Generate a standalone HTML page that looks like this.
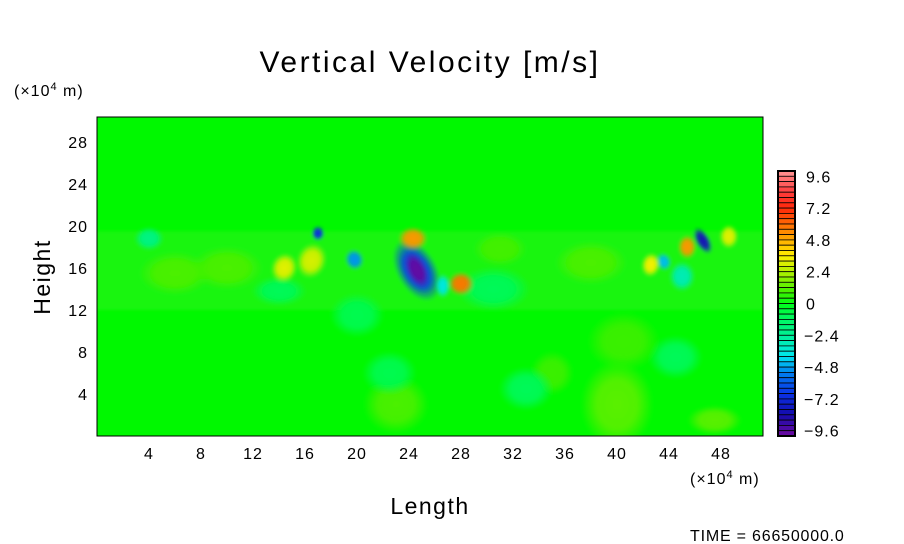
<!DOCTYPE html>
<html><head><meta charset="utf-8"><style>
html,body{margin:0;padding:0;background:#fff;}
svg{display:block;font-family:"Liberation Sans",sans-serif;}
</style></head><body>
<svg id="chart" width="904" height="544" viewBox="0 0 904 544" xmlns="http://www.w3.org/2000/svg">
<defs>
<filter id="blur" x="-50%" y="-50%" width="200%" height="200%"><feGaussianBlur stdDeviation="1.5"/></filter>
<clipPath id="plotclip"><rect x="97" y="117" width="666" height="319"/></clipPath>
</defs>
<text x="430" y="72" font-size="30" text-anchor="middle" letter-spacing="2.5">Vertical Velocity [m/s]</text>
<text x="14" y="96" font-size="16" letter-spacing="1">(×10<tspan font-size="11" dy="-6">4</tspan><tspan dy="6"> m)</tspan></text>
<g id="plot" clip-path="url(#plotclip)">
<rect x="97" y="117" width="666" height="319" fill="#00f800"/>
<g id="blobs" filter="url(#blur)"></g>
</g>
<rect x="97" y="117" width="666" height="319" fill="none" stroke="#000" stroke-width="1"/>
<g id="xticks"></g><g id="yticks"></g>
<text x="690" y="484" font-size="16" letter-spacing="1">(×10<tspan font-size="11" dy="-6">4</tspan><tspan dy="6"> m)</tspan></text>
<text x="430" y="514" font-size="23" text-anchor="middle" letter-spacing="1.5">Length</text>
<text x="50" y="277" font-size="23" text-anchor="middle" letter-spacing="1.5" transform="rotate(-90 50 277)">Height</text>
<text x="690" y="541" font-size="16" letter-spacing="0.8">TIME = 66650000.0</text>
<g id="colorbar"></g>
</svg>
<script>
const xTicks=[4,8,12,16,20,24,28,32,36,40,44,48];
const yTicks=[4,8,12,16,20,24,28];
const cbLabels=[9.6,7.2,4.8,2.4,0,-2.4,-4.8,-7.2,-9.6];
// blob data: centers (x,y in 1e4 m), value (m/s), radii (1e4 m), rotation (deg)
const blobX=[40.0,23.0,35.0,44.5,20.0,30.5,10.0,38.0,31.0,14.0,40.5,22.5,33.0,47.5,6.0,4.0,24.6,24.6,24.3,28.0,17.0,19.8,16.5,14.4,26.6,46.6,45.4,48.6,43.6,42.6,45.0];
const blobY=[3.0,3.0,6.0,7.5,11.5,14.0,16.0,16.5,17.8,13.8,9.0,6.0,4.5,1.5,15.5,18.8,15.8,15.8,18.8,14.5,19.3,16.8,16.7,16.0,14.3,18.6,18.0,19.0,16.6,16.3,15.2];
const blobV=[1.2,1.0,0.8,-1.0,-0.8,-1.0,1.0,1.0,0.9,-1.0,0.8,-0.8,-1.0,1.2,1.0,-2.0,-6.5,-9.8,5.2,5.8,-7.0,-5.0,3.0,3.2,-3.8,-8.0,5.2,3.2,-4.5,3.5,-3.0];
const blobRx=[2.0,1.8,1.2,1.5,1.5,2.0,2.0,2.0,1.5,1.5,2.0,1.5,1.5,1.5,2.0,0.8,1.1,0.55,0.8,0.7,0.35,0.5,0.8,0.7,0.4,0.4,0.5,0.5,0.4,0.5,0.7];
const blobRy=[3.0,2.0,1.5,1.5,1.5,1.5,1.5,1.5,1.2,1.0,2.0,1.5,1.5,1.0,1.5,0.8,2.3,1.3,0.8,0.8,0.5,0.7,1.2,1.0,0.8,1.0,0.8,0.8,0.6,0.8,1.0];
const blobRot=[0,0,0,0,0,0,0,0,0,0,0,0,0,0,0,0,-30,-25,0,0,0,-20,20,20,0,-30,0,0,-20,10,0];

const X0=97,X1=763,Y0=436,Y1=117,XMAX=51.23,YMAX=30.38;
const sx=v=>X0+v*(X1-X0)/XMAX, sy=v=>Y0-v*(Y0-Y1)/YMAX;
const NS="http://www.w3.org/2000/svg";
const stops=[[-10,[110,10,160]],[-8.4,[20,10,170]],[-6.8,[10,50,230]],[-5.2,[0,130,240]],[-4,[0,230,240]],[-2.4,[0,240,150]],[-0.8,[0,250,80]],[0,[0,255,20]],[0.8,[60,240,0]],[2,[150,240,0]],[3.6,[255,240,0]],[5.2,[255,150,0]],[7.2,[255,40,10]],[8.4,[255,60,60]],[10,[255,150,150]]];
function cmap(v){
  if(v<=stops[0][0])return stops[0][1];
  for(let i=1;i<stops.length;i++){if(v<=stops[i][0]){const a=stops[i-1],b=stops[i],t=(v-a[0])/(b[0]-a[0]);return a[1].map((c,k)=>Math.round(c+(b[1][k]-c)*t));}}
  return stops[stops.length-1][1];
}
const rgb=c=>`rgb(${c[0]},${c[1]},${c[2]})`;
const defs=document.querySelector('defs');
const bg=document.getElementById('blobs');
const band=document.createElementNS(NS,'rect');


band.setAttribute('x',sx(0));band.setAttribute('y',sy(19.5));band.setAttribute('width',X1-X0);band.setAttribute('height',sy(12)-sy(19.5));
band.setAttribute('fill','rgb(60,240,40)');band.setAttribute('opacity','0.4');
bg.appendChild(band);
blobX.forEach((x,i)=>{
  const g=document.createElementNS(NS,'radialGradient');g.setAttribute('id','bg'+i);
  const c=rgb(cmap(blobV[i]));
  g.innerHTML=`<stop offset="0" stop-color="${c}"/><stop offset="0.55" stop-color="${c}" stop-opacity="0.9"/><stop offset="1" stop-color="${c}" stop-opacity="0"/>`;
  defs.appendChild(g);
  const e=document.createElementNS(NS,'ellipse');
  
  
  const cx=sx(x),cy=sy(blobY[i]);
  e.setAttribute('cx',cx);e.setAttribute('cy',cy);
  e.setAttribute('rx',blobRx[i]*13*1.4);e.setAttribute('ry',blobRy[i]*10.5*1.4);
  e.setAttribute('transform',`rotate(${blobRot[i]} ${cx} ${cy})`);
  e.setAttribute('fill',`url(#bg${i})`);
  bg.appendChild(e);
});
const xt=document.getElementById('xticks');
xTicks.forEach(v=>{const t=document.createElementNS(NS,'text');


t.setAttribute('x',sx(v));t.setAttribute('y',459);t.setAttribute('font-size','16');t.setAttribute('text-anchor','middle');t.setAttribute('letter-spacing','1');t.textContent=v;xt.appendChild(t);});
const yt=document.getElementById('yticks');
yTicks.forEach(v=>{const t=document.createElementNS(NS,'text');


t.setAttribute('x',88);t.setAttribute('y',sy(v)+6);t.setAttribute('font-size','16');t.setAttribute('text-anchor','end');t.setAttribute('letter-spacing','1');t.textContent=v;yt.appendChild(t);});
const cb=document.getElementById('colorbar');
const CBT=171,CBB=436,N=50;const h=(CBB-CBT)/N;
for(let i=0;i<N;i++){const v=10-(i+0.5)*0.4;const r=document.createElementNS(NS,'rect');


r.setAttribute('x',778);r.setAttribute('y',CBT+i*h);r.setAttribute('width',17);r.setAttribute('height',h);r.setAttribute('fill',rgb(cmap(v)));r.setAttribute('stroke','#000');r.setAttribute('stroke-width','0.8');cb.appendChild(r);}
const fr=document.createElementNS(NS,'rect');fr.setAttribute('x',778);fr.setAttribute('y',CBT);fr.setAttribute('width',17);fr.setAttribute('height',CBB-CBT);fr.setAttribute('fill','none');fr.setAttribute('stroke','#000');fr.setAttribute('stroke-width','2');cb.appendChild(fr);
cbLabels.forEach(v=>{const t=document.createElementNS(NS,'text');


const y=CBT+(10-v)/0.4*h;t.setAttribute('x',v<0?804:806);t.setAttribute('y',y+6);t.setAttribute('font-size','16');t.setAttribute('letter-spacing','1');
t.textContent=(v<0?'−':'')+Math.abs(v);cb.appendChild(t);});
</script>
</body></html>
